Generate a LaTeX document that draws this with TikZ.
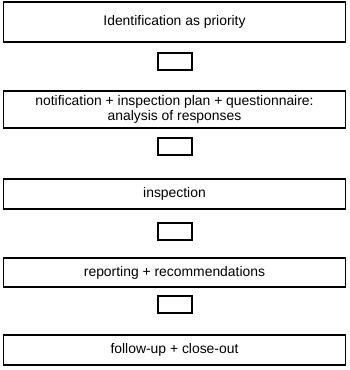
\documentclass[tikz,border=0pt]{standalone}
\usepackage{fontspec}
\setmainfont{Liberation Sans}
\usepackage{tikz}

\begin{document}
\begin{tikzpicture}[
    x=1pt, y=-1pt,
    stage/.style={rectangle, draw, line width=1.2pt, minimum width=342pt, inner sep=0pt, align=center, font=\fontsize{13.9}{15.5}\selectfont},
    link/.style={rectangle, draw, line width=2pt, minimum width=34pt, minimum height=17pt, inner sep=0pt}
]
\useasboundingbox (0,0) rectangle (350,370);

% Identification
\node[stage, minimum height=40pt] (ident) at (174.5,22) {Identification as priority};
\node[link] (link1) at (175,61.5) {};

% Notification and questionnaire
\node[stage, minimum height=37pt] (notif) at (174.5,109.5) {notification + inspection plan + questionnaire:\\analysis of responses};
\node[link] (link2) at (175,146.5) {};

% Inspection
\node[stage, minimum height=30pt] (insp) at (174.5,194) {inspection};
\node[link] (link3) at (175,231.5) {};

% Reporting
\node[stage, minimum height=29pt] (report) at (174.5,272.5) {reporting + recommendations};
\node[link] (link4) at (175,304.5) {};

% Follow-up
\node[stage, minimum height=30pt] (follow) at (174.5,350) {follow-up + close-out};

\end{tikzpicture}
\end{document}
